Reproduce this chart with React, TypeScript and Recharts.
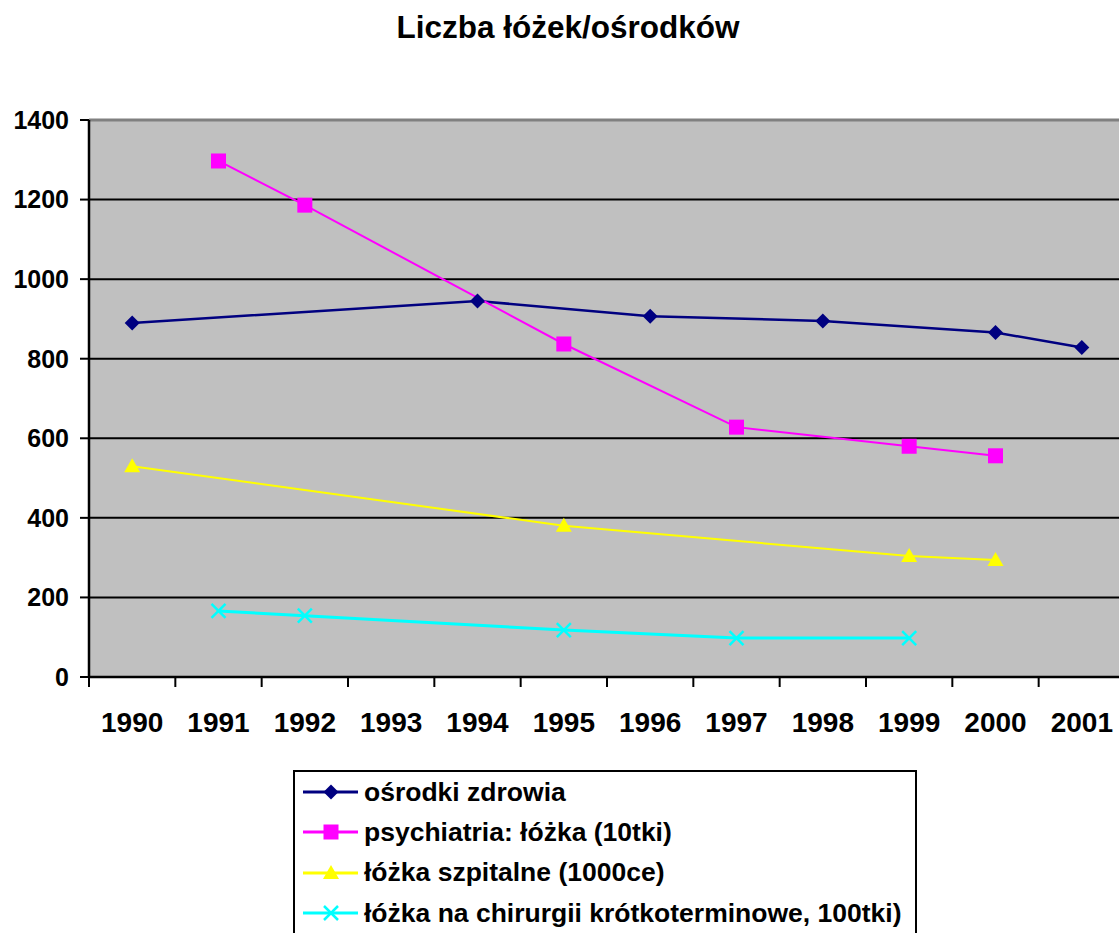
import { LineChart, Line, XAxis, YAxis, CartesianGrid, ReferenceLine, Legend } from 'recharts';

const years = ['1990', '1991', '1992', '1993', '1994', '1995', '1996', '1997', '1998', '1999', '2000', '2001'];
const osrodki = [890, null, null, null, 945, null, 907, null, 895, null, 866, 828];
const psychiatria = [null, 1297, 1186, null, null, 837, null, 628, null, 580, 556, null];
const szpitalne = [530, null, null, null, null, 380, null, null, null, 304, 294, null];
const chirurgia = [null, 166, 154, null, null, 118, null, 98, null, 98, null, null];
const yTicks = [0, 200, 400, 600, 800, 1000, 1200, 1400];

const data = years.map((year, i) => ({
  year,
  osrodki: osrodki[i],
  psychiatria: psychiatria[i],
  szpitalne: szpitalne[i],
  chirurgia: chirurgia[i],
}));

const FONT = '"Liberation Sans", Arial, sans-serif';
const CHART_W = 1140;
const CHART_H = 933;
const MARGIN = { top: 120, right: 15, left: 0, bottom: 196 };
const Y_AXIS_W = 89;
const X_AXIS_H = 60;
const PLOT_W = CHART_W - MARGIN.left - MARGIN.right - Y_AXIS_W;
const BAND = PLOT_W / years.length;
const PLOT_BOTTOM = CHART_H - MARGIN.bottom - X_AXIS_H;

const series = [
  { key: 'osrodki', name: 'ośrodki zdrowia', color: '#000080', width: 2.5, shape: 'diamond' },
  { key: 'psychiatria', name: 'psychiatria: łóżka (10tki)', color: '#FF00FF', width: 2, shape: 'square' },
  { key: 'szpitalne', name: 'łóżka szpitalne (1000ce)', color: '#FFFF00', width: 2, shape: 'triangle' },
  { key: 'chirurgia', name: 'łóżka na chirurgii krótkoterminowe, 100tki)', color: '#00FFFF', width: 3, shape: 'cross' },
];

function Marker({ cx, cy, shape, color }: { cx: number; cy: number; shape: string; color: string }) {
  if (shape === 'diamond') {
    return <path d={`M${cx},${cy - 7.5} L${cx + 7.5},${cy} L${cx},${cy + 7.5} L${cx - 7.5},${cy} Z`} fill={color} />;
  }
  if (shape === 'square') {
    return <rect x={cx - 7.5} y={cy - 7.5} width={15} height={15} fill={color} />;
  }
  if (shape === 'triangle') {
    return <path d={`M${cx},${cy - 8} L${cx + 8},${cy + 6} L${cx - 8},${cy + 6} Z`} fill={color} />;
  }
  return (
    <g stroke={color} strokeWidth={2.5}>
      <line x1={cx - 7} y1={cy - 7} x2={cx + 7} y2={cy + 7} />
      <line x1={cx - 7} y1={cy + 7} x2={cx + 7} y2={cy - 7} />
    </g>
  );
}

const makeDot = (shape: string, color: string) => (props: any) => {
  const { cx, cy, index, value } = props;
  if (value == null || cx == null || cy == null) return <g key={`e-${index}`} />;
  return (
    <g key={`d-${shape}-${index}`}>
      <Marker cx={cx} cy={cy} shape={shape} color={color} />
    </g>
  );
};

const XTick = (props: any) => {
  const { x, payload } = props;
  const edge = x - BAND / 2;
  return (
    <g>
      <line x1={edge} y1={PLOT_BOTTOM} x2={edge} y2={PLOT_BOTTOM + 10} stroke="#000" strokeWidth={2} />
      <text x={x} y={PLOT_BOTTOM + 55} textAnchor="middle" fontFamily={FONT} fontWeight="bold" fontSize={28} fill="#000">
        {payload.value}
      </text>
    </g>
  );
};

const LegendBox = () => (
  <div
    style={{
      border: '2px solid #000',
      background: '#fff',
      width: 624,
      height: 200,
      boxSizing: 'border-box',
      fontFamily: FONT,
      fontWeight: 'bold',
      fontSize: 26.5,
      color: '#000',
      whiteSpace: 'nowrap',
    }}
  >
    {series.map((s) => (
      <div key={s.key} style={{ display: 'flex', alignItems: 'center', height: 40.3 }}>
        <svg width={56} height={20} style={{ marginLeft: 8, flexShrink: 0 }}>
          <line x1={0} y1={10} x2={55} y2={10} stroke={s.color} strokeWidth={3} />
          <Marker cx={28} cy={10} shape={s.shape} color={s.color} />
        </svg>
        <span style={{ marginLeft: 5 }}>{s.name}</span>
      </div>
    ))}
  </div>
);

export default function App() {
  return (
    <div
      style={{
        position: 'fixed',
        left: 0,
        top: 0,
        width: 1119,
        height: 933,
        overflow: 'hidden',
        background: '#fff',
      }}
    >
      <div
        style={{
          position: 'absolute',
          left: 0,
          top: 12,
          width: 1136,
          textAlign: 'center',
          fontFamily: FONT,
          fontWeight: 'bold',
          fontSize: 31.5,
          lineHeight: '31.5px',
          color: '#000',
        }}
      >
        Liczba łóżek/ośrodków
      </div>
      <LineChart width={CHART_W} height={CHART_H} data={data} margin={MARGIN}>
        <CartesianGrid
          vertical={false}
          stroke="#000"
          strokeWidth={2}
          fill="#C0C0C0"
          fillOpacity={1}
          horizontalValues={yTicks}
        />
        <ReferenceLine y={1400} stroke="#808080" strokeWidth={3} />
        <XAxis
          dataKey="year"
          height={X_AXIS_H}
          interval={0}
          padding={{ left: BAND / 2, right: BAND / 2 }}
          tickLine={false}
          axisLine={{ stroke: '#000', strokeWidth: 2.5 }}
          tick={<XTick />}
        />
        <YAxis
          width={Y_AXIS_W}
          domain={[0, 1400]}
          ticks={yTicks}
          interval={0}
          tickSize={9}
          tickMargin={11}
          tickLine={{ stroke: '#000', strokeWidth: 2 }}
          axisLine={{ stroke: '#000', strokeWidth: 2.5 }}
          tick={{ fontFamily: FONT, fontWeight: 'bold', fontSize: 25, fill: '#000' }}
        />
        <Legend
          layout="vertical"
          verticalAlign="middle"
          align="center"
          content={<LegendBox />}
          wrapperStyle={{ left: 293, top: 770, width: 624, height: 200 }}
        />
        {series.map((s) => (
          <Line
            key={s.key}
            type="linear"
            dataKey={s.key}
            name={s.name}
            stroke={s.color}
            strokeWidth={s.width}
            connectNulls
            dot={makeDot(s.shape, s.color)}
            activeDot={false}
            isAnimationActive={false}
          />
        ))}
      </LineChart>
    </div>
  );
}
